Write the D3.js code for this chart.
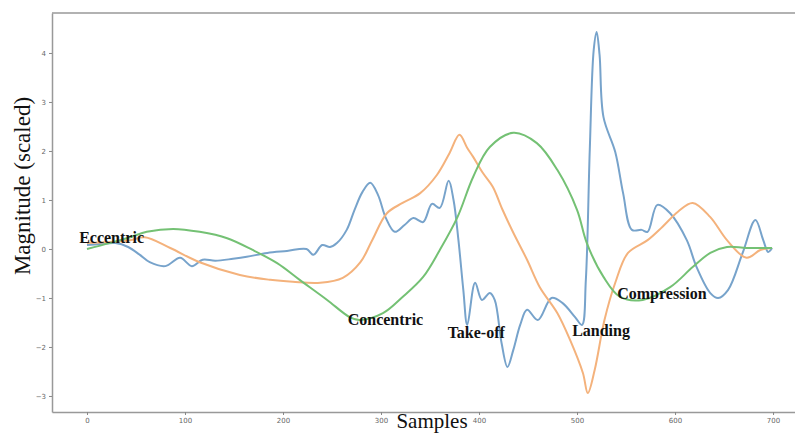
<!DOCTYPE html>
<html lang="en">
    <head>
        <meta charset="utf-8">
        <title>Jump phases</title>
        <script src="https://d3js.org/d3.v7.min.js"></script>
        <style type="text/css">
            body { margin: 0; background: #fff; }
            .tick text { font-family: "DejaVu Sans", sans-serif; font-size: 7px; fill: #666; }
            .tick line { stroke: #888; }
            .domain { stroke: #999; stroke-width: 1.5; }
        </style>
    </head>
    <body>
        <script type="text/javascript">

            //1. sizes
            const svgW = 795;
            const svgH = 434;

            //2. data (sample, scaled magnitude)
            const blue = [
                [0,0.08],[13,0.10],[29,0.12],[42,0.04],[54,-0.12],[64,-0.27],[80,-0.35],[95,-0.18],
                [107,-0.35],[118,-0.22],[131,-0.24],[149,-0.20],[163,-0.16],[184,-0.08],[204,-0.04],
                [224,0.0],[231,-0.12],[240,0.08],[248,0.04],[255,0.12],[265,0.39],[273,0.80],[281,1.16],
                [289,1.35],[297,1.10],[305,0.63],[314,0.35],[324,0.49],[333,0.63],[343,0.55],[352,0.92],
                [360,0.84],[369,1.39],[374,1.00],[379,0.18],[384,-0.84],[388,-1.55],[396,-0.69],
                [403,-1.04],[411,-0.90],[416,-1.04],[423,-1.92],[429,-2.41],[435,-2.06],[442,-1.55],
                [449,-1.24],[460,-1.45],[474,-1.00],[485,-1.10],[498,-1.39],[505,-1.55],[509,-0.63],
                [513,2.02],[517,4.06],[520,4.43],[523,3.96],[527,2.69],[539,1.98],[547,1.14],[556,0.39],
                [566,0.39],[572,0.35],[582,0.90],[595,0.73],[612,0.18],[622,-0.37],[636,-0.90],
                [644,-1.00],[654,-0.84],[669,-0.08],[682,0.59],[690,0.18],[695,-0.06],[699,0.02]
            ];
            const orange = [
                [0,0.12],[23,0.14],[44,0.18],[59,0.24],[85,0.02],[115,-0.27],[156,-0.53],[187,-0.63],
                [210,-0.67],[238,-0.69],[261,-0.59],[279,-0.27],[291,0.18],[306,0.73],[322,0.94],
                [340,1.14],[357,1.51],[370,1.96],[380,2.33],[388,2.06],[394,1.88],[404,1.55],[414,1.27],
                [424,0.80],[435,0.33],[449,-0.22],[462,-0.78],[480,-1.31],[493,-1.86],[506,-2.53],
                [511,-2.94],[518,-2.47],[528,-1.45],[539,-0.69],[552,-0.08],[572,0.18],[587,0.45],
                [603,0.76],[618,0.94],[636,0.65],[653,0.18],[673,-0.18],[687,-0.02],[699,0.02]
            ];
            const green = [
                [0,0.0],[23,0.12],[44,0.24],[61,0.35],[88,0.41],[115,0.35],[143,0.22],[169,-0.02],
                [194,-0.29],[217,-0.63],[245,-1.04],[268,-1.39],[278,-1.45],[302,-1.31],[322,-0.98],
                [343,-0.57],[360,-0.02],[378,0.65],[394,1.47],[411,2.08],[435,2.37],[459,2.16],
                [480,1.61],[500,0.80],[510,0.12],[527,-0.57],[544,-0.98],[567,-1.04],[595,-0.78],
                [618,-0.37],[636,-0.08],[653,0.04],[673,0.02],[699,0.02]
            ];
            const xTicks = [0, 100, 200, 300, 400, 500, 600, 700];
            const yTicks = [-3, -2, -1, 0, 1, 2, 3, 4];
            const phaseNames = ["Eccentric", "Concentric", "Take-off", "Landing", "Compression"];
            const phaseSample = [-8, 266, 368, 495, 541];
            const phaseValue = [0.12, -1.55, -1.82, -1.78, -1.02];

            //3. scales
            const xScale = d3.scaleLinear()
                            .domain([-35.7, 722.4])
                            .range([52, 795]);
            const yScale = d3.scaleLinear()
                            .domain([-3.327, 4.816])
                            .range([412, 13]);

            //4. SVG
            const svg = d3.select("body")
                        .append("svg")
                        .attr("width", svgW)
                        .attr("height", svgH);

            // top border
            svg.append("line")
                .attr("x1", xScale.range()[0]).attr("x2", xScale.range()[1])
                .attr("y1", yScale.range()[1]).attr("y2", yScale.range()[1])
                .attr("stroke", "#999").attr("stroke-width", 1.5);

            svg.append("g")
                .attr("transform", "translate(0," + yScale.range()[0] + ")")
                .call(d3.axisBottom(xScale).tickValues(xTicks).tickSize(3).tickSizeOuter(0));

            svg.append("g")
                .attr("transform", "translate(" + xScale.range()[0] + ",0)")
                .call(d3.axisLeft(yScale).tickValues(yTicks).tickSize(3).tickSizeOuter(0));

            const line = d3.line()
                        .x(d => xScale(d[0]))
                        .y(d => yScale(d[1]))
                        .curve(d3.curveCatmullRom.alpha(0.5));

            const series = [
                {pts: blue, color: "#77a3cb"},
                {pts: orange, color: "#f4b27c"},
                {pts: green, color: "#74c174"}
            ];

            svg.selectAll("path.series")
                .data(series)
                .enter()
                .append("path")
                .attr("class", "series")
                .attr("d", d => line(d.pts))
                .attr("fill", "none")
                .attr("stroke", d => d.color)
                .attr("stroke-width", 2);

            // phase annotations
            svg.selectAll("text.phase")
                .data(phaseNames)
                .enter()
                .append("text")
                .attr("class", "phase")
                .attr("x", (d, i) => xScale(phaseSample[i]))
                .attr("y", (d, i) => yScale(phaseValue[i]))
                .attr("font-family", "Liberation Serif, serif")
                .attr("font-weight", "bold")
                .attr("font-size", "16px")
                .attr("fill", "#111")
                .text(d => d);

            // axis titles
            svg.append("text")
                .attr("x", 432).attr("y", 428)
                .attr("text-anchor", "middle")
                .attr("font-family", "Liberation Serif, serif")
                .attr("font-size", "21px")
                .attr("fill", "#111")
                .text("Samples");

            svg.append("text")
                .attr("transform", "translate(30,186) rotate(-90)")
                .attr("text-anchor", "middle")
                .attr("font-family", "Liberation Serif, serif")
                .attr("font-size", "23px")
                .attr("fill", "#111")
                .text("Magnitude (scaled)");

        </script>
    </body>
</html>
